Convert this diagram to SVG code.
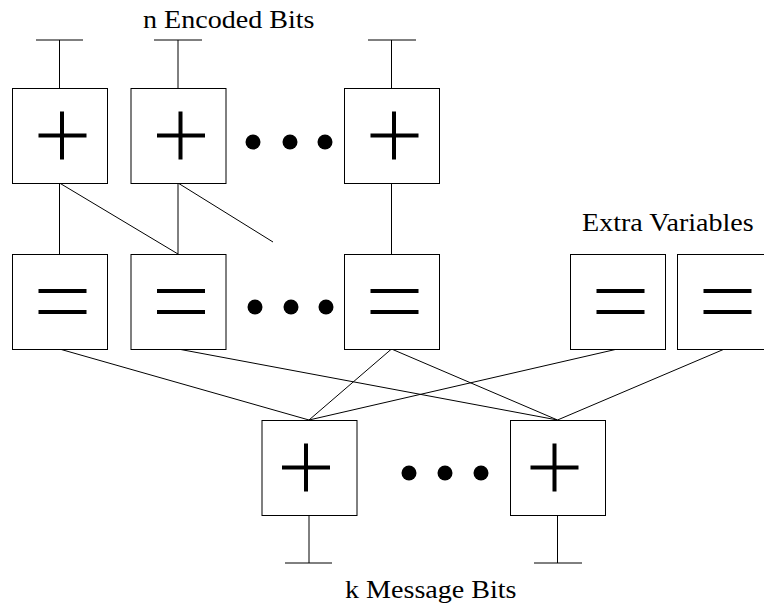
<svg xmlns="http://www.w3.org/2000/svg" width="764" height="606" viewBox="0 0 764 606">
  <style>
    .box { fill: #fff; stroke: #000; stroke-width: 1; }
    .wire { fill: none; stroke: #000; stroke-width: 1; }
    .sym { fill: none; stroke: #000; stroke-width: 4; }
    .dot { fill: #000; }
    .lbl { font-family: "Liberation Serif", "Times New Roman", serif; font-size: 26px; fill: #000; }
  </style>
  <defs>
    <!-- check node: box with a plus sign, local origin at box centre -->
    <g id="plusNode">
      <rect class="box" x="-47" y="-47" width="95" height="95"/>
      <path class="sym" d="M-21 0H27M2.5 -24V24"/>
    </g>
    <!-- variable node: box with an equals sign -->
    <g id="eqNode">
      <rect class="box" x="-47" y="-47" width="95" height="95"/>
      <path class="sym" d="M-21 -10.5H27M-21 10.5H27"/>
    </g>
    <g id="plusNodeB">
      <rect class="box" x="-47" y="-47" width="95" height="95"/>
      <path class="sym" d="M-27 0H21M-3 -24V24"/>
    </g>
  </defs>

  <!-- connectors -->
  <g id="connectors" class="wire">
    <!-- output terminals -->
    <path d="M59.5 40V88M36 40H83"/>
    <path d="M178 40V88M154 40H202"/>
    <path d="M391.5 40V88M368 40H416"/>
    <!-- check to variable -->
    <path d="M59.5 183V254"/>
    <path d="M59.5 183L178 254"/>
    <path d="M178 183V254"/>
    <path d="M178 183L273 242"/>
    <path d="M391.5 183V254"/>
    <!-- variable to bottom checks -->
    <path d="M59.5 349L309 420"/>
    <path d="M178 349L557.5 420"/>
    <path d="M391.5 349L309 420"/>
    <path d="M391.5 349L557.5 420"/>
    <path d="M617.5 349L309 420"/>
    <path d="M724.5 349L557.5 420"/>
    <!-- message terminals -->
    <path d="M309 515V563M285 563H332"/>
    <path d="M557.5 515V563M534 563H582"/>
  </g>

  <!-- top row: check nodes -->
  <g id="c1"><use href="#plusNode" x="59.5" y="135.5"/></g>
  <g id="c2"><use href="#plusNode" x="178" y="135.5"/></g>
  <g id="cn"><use href="#plusNode" x="391.5" y="135.5"/></g>
  <g id="dotsTop" class="dot">
    <circle cx="253" cy="142" r="7.5"/>
    <circle cx="290" cy="142" r="7.5"/>
    <circle cx="325" cy="142" r="7.5"/>
  </g>

  <!-- middle row: variable nodes -->
  <g id="v1"><use href="#eqNode" x="59.5" y="301.5"/></g>
  <g id="v2"><use href="#eqNode" x="178" y="301.5"/></g>
  <g id="vn"><use href="#eqNode" x="391.5" y="301.5"/></g>
  <g id="x1"><use href="#eqNode" x="617.5" y="301.5"/></g>
  <g id="x2"><use href="#eqNode" x="724.5" y="301.5"/></g>
  <g id="dotsMid" class="dot">
    <circle cx="255" cy="307" r="7.5"/>
    <circle cx="291" cy="307" r="7.5"/>
    <circle cx="326" cy="307" r="7.5"/>
  </g>

  <!-- bottom row: message check nodes -->
  <g id="m1"><use href="#plusNodeB" x="309" y="467.5"/></g>
  <g id="mk"><use href="#plusNodeB" x="557.5" y="467.5"/></g>
  <g id="dotsBot" class="dot">
    <circle cx="409" cy="473" r="7.5"/>
    <circle cx="445" cy="473" r="7.5"/>
    <circle cx="481" cy="473" r="7.5"/>
  </g>

  <!-- labels, widened horizontally -->
  <g id="labels" class="lbl">
    <text transform="translate(143 28) scale(1.08 1)">n Encoded Bits</text>
    <text transform="translate(582 231) scale(1.08 1)">Extra Variables</text>
    <text transform="translate(345 598) scale(1.08 1)">k Message Bits</text>
  </g>
</svg>
